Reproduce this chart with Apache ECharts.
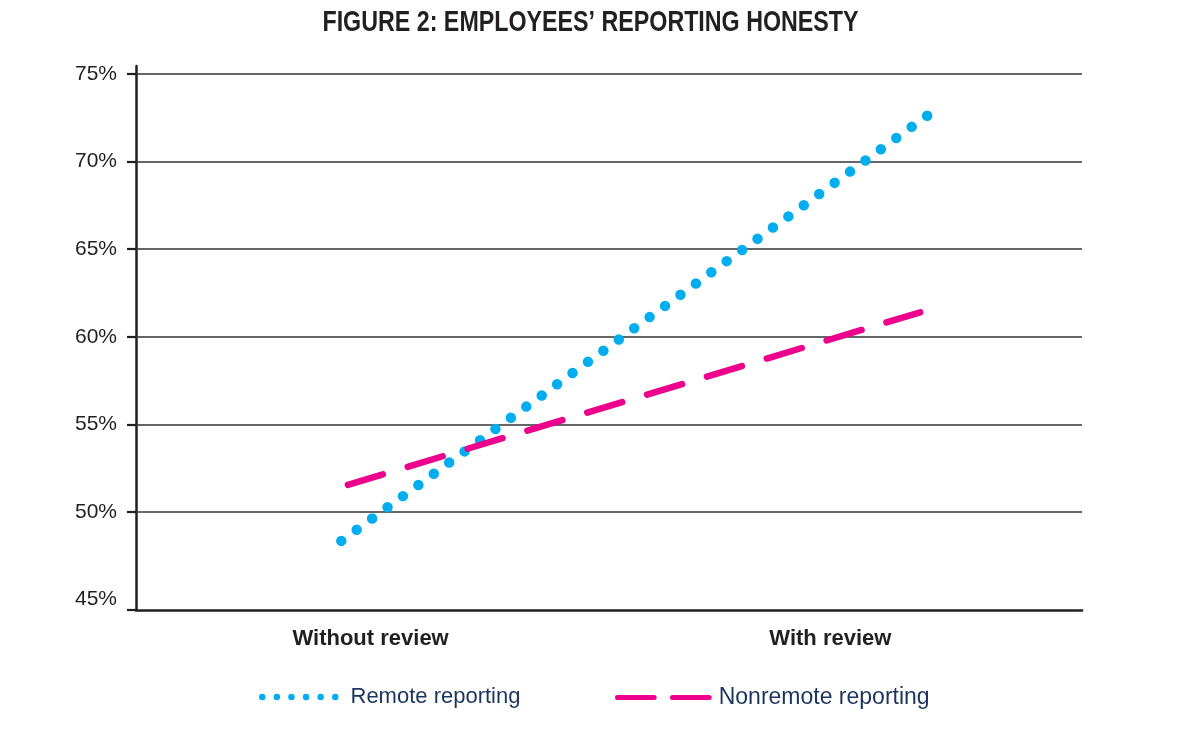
<!DOCTYPE html>
<html>
<head>
<meta charset="utf-8">
<script src="https://cdn.jsdelivr.net/npm/echarts@6/dist/echarts.min.js"></script>
<style>
  html, body { margin: 0; padding: 0; background: #ffffff; }
  #chart { width: 1200px; height: 747px; }
</style>
</head>
<body>
<div id="chart"></div>
<script>
// ---- data ----
const titleText = 'FIGURE 2: EMPLOYEES\u2019 REPORTING HONESTY';
const categories = ['Without review', 'With review'];
const categoryX = [24.8, 73.4];          // where the category labels sit on the 0-100 x scale
const seriesNames = ['Remote reporting', 'Nonremote reporting'];
const remoteX = [21.7, 83.7];
const remoteValues = [48.35, 72.65];
const nonremoteX = [22.4, 82.9];
const nonremoteValues = [51.55, 61.4];
const yTicks = [45, 50, 55, 60, 65, 70, 75];
const gridValues = [50, 55, 60, 65, 70, 75];
const yMin = 44.406;
const yMax = 75.457;

// ---- styles ----
const INK = '#231f20';
const NAVY = '#1c355e';
const CYAN = '#00aeef';
const MAGENTA = '#ec008c';

function dotsIcon(n, r, step) {
  let p = '';
  for (let i = 0; i < n; i++) {
    const cx = r + i * step;
    p += 'M' + (cx - r) + ',' + r + 'a' + r + ',' + r + ' 0 1,0 ' + (2 * r) + ',0' +
         'a' + r + ',' + r + ' 0 1,0 ' + (-2 * r) + ',0Z';
  }
  return 'path://' + p;
}
function dashesIcon(len, gap, h) {
  const r = h / 2;
  let p = '';
  for (let i = 0; i < 2; i++) {
    const x0 = i * (len + gap);
    p += 'M' + (x0 + r) + ',0h' + (len - h) + 'a' + r + ',' + r + ' 0 0,1 0,' + h +
         'h' + (-(len - h)) + 'a' + r + ',' + r + ' 0 0,1 0,' + (-h) + 'Z';
  }
  return 'path://' + p;
}

const chart = echarts.init(document.getElementById('chart'), null, { renderer: 'canvas' });

const toPairs = (xs, ys) => xs.map((x, i) => [x, ys[i]]);

chart.setOption({
  animation: false,
  backgroundColor: '#ffffff',
  graphic: [
    {
      type: 'text',
      x: 590.5,
      y: 22.5,
      scaleX: 0.775,
      silent: true,
      style: {
        text: titleText,
        align: 'center',
        verticalAlign: 'middle',
        fontFamily: 'Liberation Sans, Arial, sans-serif',
        fontWeight: 'bold',
        fontSize: 30,
        fill: INK
      }
    }
  ],
  grid: { left: 136, right: 118, top: 66, bottom: 137 },
  legend: [
    {
      data: [{ name: seriesNames[0], icon: dotsIcon(6, 3.25, 14.6) }],
      left: 259, top: 686,
      padding: 0,
      itemWidth: 79.5, itemHeight: 6.5,
      selectedMode: false,
      itemStyle: { borderWidth: 0 },
      textStyle: { fontFamily: 'Liberation Sans', fontSize: 22, color: NAVY, padding: [0, 0, 0, 7] }
    },
    {
      data: [{ name: seriesNames[1], icon: dashesIcon(41.7, 13.3, 5) }],
      left: 615, top: 686,
      padding: 0,
      itemWidth: 96.7, itemHeight: 5,
      selectedMode: false,
      itemStyle: { borderWidth: 0 },
      textStyle: { fontFamily: 'Liberation Sans', fontSize: 23, color: NAVY, padding: [0, 0, 0, 2] }
    }
  ],
  xAxis: {
    type: 'value',
    min: 0,
    max: 100,
    axisLine: { show: true, lineStyle: { color: INK, width: 2.7 } },
    axisTick: { show: false },
    splitLine: { show: false },
    axisLabel: {
      customValues: categoryX,
      formatter: function (v) {
        const i = categoryX.indexOf(v);
        return i >= 0 ? categories[i] : '';
      },
      margin: 18,
      fontFamily: 'Liberation Sans',
      fontWeight: 'bold',
      fontSize: 22,
      color: INK
    }
  },
  yAxis: {
    type: 'value',
    min: yMin,
    max: yMax,
    axisLine: { show: true, lineStyle: { color: INK, width: 2.5 } },
    axisTick: {
      show: true,
      customValues: [yMin].concat(gridValues),
      length: 9,
      lineStyle: { color: INK, width: 2.2 }
    },
    splitLine: { show: false },
    axisLabel: {
      customValues: yTicks,
      formatter: function (v) { return v + '%'; },
      margin: 19,
      fontFamily: 'Liberation Sans',
      fontSize: 21,
      padding: [4, 0, 0, 0],
      color: INK
    }
  },
  series: [
    {
      name: seriesNames[0],
      type: 'line',
      z: 3,
      silent: true,
      symbol: 'none',
      color: CYAN,
      data: toPairs(remoteX, remoteValues),
      lineStyle: { color: CYAN, width: 10.5, type: [0, 19.05], cap: 'round' },
      markLine: {
        z: 1,
        silent: true,
        symbol: ['none', 'none'],
        label: { show: false },
        lineStyle: { color: '#333333', width: 1.5, type: 'solid' },
        emphasis: { disabled: true },
        data: gridValues.map(v => ({ yAxis: v }))
      }
    },
    {
      name: seriesNames[1],
      type: 'line',
      z: 3,
      silent: true,
      symbol: 'none',
      color: MAGENTA,
      data: toPairs(nonremoteX, nonremoteValues),
      lineStyle: { color: MAGENTA, width: 6.5, type: [36.5, 26], cap: 'round' }
    }
  ]
});
</script>
</body>
</html>
